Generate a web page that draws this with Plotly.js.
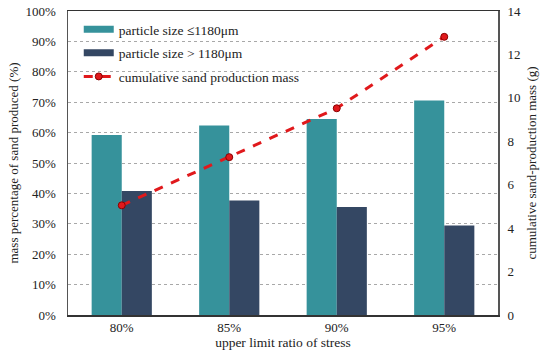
<!DOCTYPE html>
<html><head><meta charset="utf-8">
<script src="https://cdn.plot.ly/plotly-3.0.1.min.js"></script>
<style>html,body{margin:0;padding:0;background:#fff}#c{width:550px;height:358px}</style>
</head><body><div id="c"></div>
<script>
const categories = ['80%', '85%', '90%', '95%'];
const fineShare = [59.2, 62.3, 64.5, 70.6];
const coarseShare = [40.8, 37.7, 35.5, 29.4];
const cumulativeMass = [5.05, 7.27, 9.52, 12.81];
const seriesNames = ['particle size ≤1180μm', 'particle size > 1180μm', 'cumulative sand production mass'];

const teal = '#36929b', navy = '#344763', red = '#e0191c';
const serif = '"Liberation Serif", "Times New Roman", serif';
const traces = [
  {type:'bar', x:categories, y:fineShare, name:seriesNames[0], showlegend:false, marker:{color:teal}},
  {type:'bar', x:categories, y:coarseShare, name:seriesNames[1], showlegend:false, marker:{color:navy}},
  {type:'scatter', mode:'lines+markers', x:categories, y:cumulativeMass, yaxis:'y2', legendgroup:'c',
   name:seriesNames[2], legendrank:3,
   line:{color:red, width:3, dash:'dash'},
   marker:{color:red, size:7, line:{color:'#8b0000', width:1}}},
  // legend-only proxies so the bar entries show as wide flat swatches
  {type:'scatter', mode:'lines', x:[null], y:[null], name:seriesNames[0], legendgroup:'a', legendrank:1,
   line:{color:teal, width:7}, hoverinfo:'skip'},
  {type:'scatter', mode:'lines', x:[null], y:[null], name:seriesNames[1], legendgroup:'b', legendrank:2,
   line:{color:navy, width:7}, hoverinfo:'skip'}
];
const layout = {
  width:550, height:358,
  margin:{l:68, r:52, t:11, b:43},
  paper_bgcolor:'#fff', plot_bgcolor:'#fff',
  font:{family:serif, size:13, color:'#222'},
  showlegend:true,
  barmode:'group', bargap:0.44, bargroupgap:0,
  legend:{x:0.025, y:0.99, xanchor:'left', yanchor:'top', bgcolor:'rgba(255,255,255,0)',
          font:{family:serif, size:13.5, color:'#222'}, tracegroupgap:3, itemwidth:30, traceorder:'grouped'},
  xaxis:{type:'category', showline:true, linecolor:'#333', linewidth:1.5, mirror:true,
         ticks:'', tickfont:{family:serif, size:13},
         title:{text:'upper limit ratio of stress', font:{family:serif, size:13.5}, standoff:2}},
  yaxis:{range:[0,100], dtick:10, ticksuffix:'%', showline:true, linecolor:'#555', linewidth:1.5,
         mirror:true, showgrid:true, gridcolor:'#a8a8a8', griddash:'dot', gridwidth:1, zeroline:false,
         ticks:'outside', ticklen:8, tickcolor:'rgba(0,0,0,0)', tickfont:{family:serif, size:13},
         title:{text:'mass percentage of sand produced (%)', font:{family:serif, size:13}, standoff:4}},
  yaxis2:{range:[0,14], dtick:2, overlaying:'y', side:'right', showgrid:false, zeroline:false,
          ticks:'outside', ticklen:6, tickcolor:'rgba(0,0,0,0)', tickfont:{family:serif, size:13},
          title:{text:'cumulative sand-production mass (g)', font:{family:serif, size:13}, standoff:6}}
};
Plotly.newPlot('c', traces, layout, {displayModeBar:false, staticPlot:true});
</script></body></html>
